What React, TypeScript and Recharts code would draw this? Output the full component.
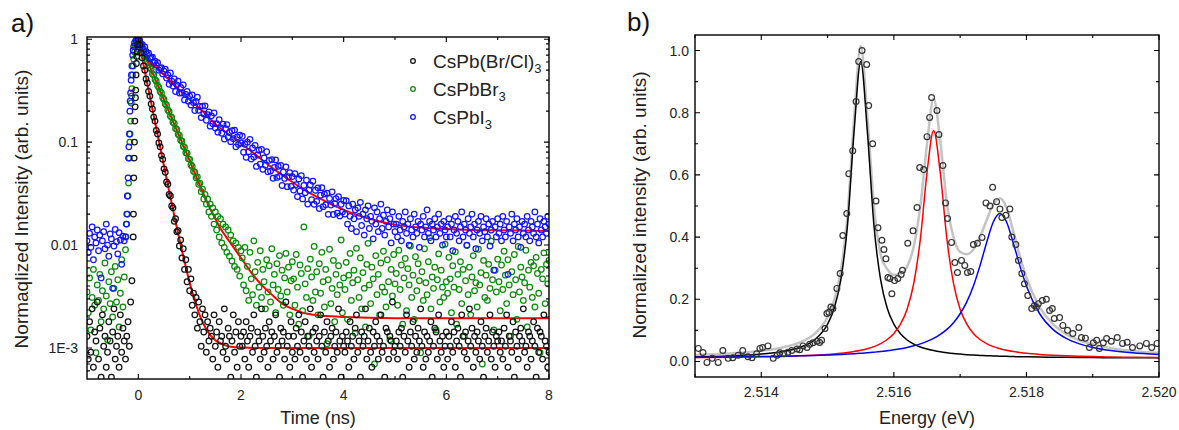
import { ComposedChart, Scatter, Line, XAxis, YAxis } from "recharts";

const FONT = '"Liberation Sans", Arial, Helvetica, sans-serif';

// ---------- panel a: TRPL decays, 25 ps bins from -1 ns to 8 ns ----------
const T0 = -1;
const DT = 0.025;

// CsPb(Br/Cl)3
const bromoChloride = [
  // -1.0 .. -0.125
  0.0013, 0.00078, 0.0018, 0.00091, 0.0024, 0.00065, 0.00143, 0.00117, 0.0028, 0.00078, 0.00156, 0.00052,
  0.0021, 0.00104, 0.0013, 0.00065, 0.00091, 0.0018, 0.00117, 0.00052, 0.00143, 0.0024, 0.00078, 0.00104,
  0.0013, 0.00065, 0.0021, 0.00091, 0.00156, 0.00117, 0.00078, 0.0013, 0.0018, 0.00104, 0.0028, 0.0045,
  // -0.1 .. 0
  0.012, 0.1, 0.32, 0.75, 1.0,
  // 0.025 .. 1.0
  0.88, 0.74, 0.66, 0.55, 0.5, 0.41, 0.375, 0.31, 0.28, 0.235, 0.21, 0.175, 0.16, 0.13, 0.12, 0.098, 0.09, 0.074,
  0.068, 0.055, 0.051, 0.041, 0.039, 0.031, 0.03, 0.024, 0.023, 0.017, 0.018, 0.0135, 0.0138, 0.0098, 0.0112,
  0.0075, 0.0092, 0.0058, 0.0072, 0.0044, 0.0058, 0.0036,
  // 1.025 .. 2.0
  0.0047, 0.0026, 0.0034, 0.0021, 0.0031, 0.00156, 0.0028, 0.0018, 0.00104, 0.0024, 0.00143, 0.0021, 0.00091,
  0.0018, 0.00117, 0.00156, 0.0013, 0.00078, 0.0021, 0.00104, 0.00143, 0.00065, 0.0018, 0.00117, 0.0013, 0.00091,
  0.0024, 0.00104, 0.00078, 0.00156, 0.0013, 0.00052, 0.00117, 0.0021, 0.00091, 0.00143, 0.00065, 0.0018, 0.00104,
  0.0013,
  // 2.025 .. 3.0
  0.00104, 0.00143, 0.00078, 0.0018, 0.00117, 0.00065, 0.0013, 0.00156, 0.00091, 0.0021, 0.00104, 0.00052,
  0.00143, 0.00117, 0.00078, 0.0024, 0.0013, 0.00091, 0.00156, 0.00104, 0.00065, 0.0018, 0.00117, 0.00143,
  0.00078, 0.0013, 0.0021, 0.00091, 0.00104, 0.00052, 0.00156, 0.00117, 0.00143, 0.00078, 0.0028, 0.00104,
  0.0013, 0.00065, 0.0018, 0.00091,
  // 3.025 .. 4.0
  0.0013, 0.00078, 0.00156, 0.00104, 0.0021, 0.00091, 0.00143, 0.00052, 0.00117, 0.0018, 0.00078, 0.0013,
  0.00104, 0.0024, 0.00065, 0.00143, 0.00091, 0.00156, 0.00117, 0.00078, 0.0013, 0.0021, 0.00104, 0.00052,
  0.00143, 0.00091, 0.0018, 0.00117, 0.00065, 0.0013, 0.00156, 0.00078, 0.00104, 0.00143, 0.00091, 0.0024,
  0.00117, 0.00052, 0.0013, 0.00104,
  // 4.025 .. 5.0
  0.00091, 0.00143, 0.00117, 0.00065, 0.0018, 0.00104, 0.0013, 0.00078, 0.00156, 0.0021, 0.00091, 0.00117,
  0.00052, 0.00143, 0.00104, 0.0013, 0.0024, 0.00078, 0.00117, 0.00156, 0.00091, 0.00065, 0.00143, 0.00104,
  0.0018, 0.0013, 0.00078, 0.00117, 0.0021, 0.00091, 0.00104, 0.00052, 0.00156, 0.00143, 0.00078, 0.0013,
  0.00117, 0.0028, 0.00091, 0.00104,
  // 5.025 .. 6.0
  0.00117, 0.00078, 0.00143, 0.00104, 0.00156, 0.00052, 0.0013, 0.00091, 0.0021, 0.00117, 0.00065, 0.00143,
  0.00104, 0.0018, 0.00078, 0.0013, 0.00091, 0.00156, 0.00117, 0.0024, 0.00104, 0.00065, 0.00143, 0.00078,
  0.0013, 0.00091, 0.00117, 0.0018, 0.00052, 0.00104, 0.00156, 0.00143, 0.00078, 0.0021, 0.00117, 0.00091,
  0.0013, 0.00065, 0.00104, 0.00143,
  // 6.025 .. 7.0
  0.00078, 0.0013, 0.00104, 0.0018, 0.00091, 0.00143, 0.00065, 0.00117, 0.00156, 0.00104, 0.00052, 0.0021,
  0.0013, 0.00091, 0.00143, 0.00078, 0.00117, 0.0024, 0.00104, 0.00156, 0.00065, 0.0013, 0.00091, 0.00143,
  0.00117, 0.00078, 0.0018, 0.00104, 0.00052, 0.0013, 0.00156, 0.00091, 0.00117, 0.0021, 0.00078, 0.00143,
  0.00104, 0.00065, 0.0013, 0.00117,
  // 7.025 .. 8.0
  0.00143, 0.00091, 0.00117, 0.00078, 0.00156, 0.00104, 0.0021, 0.00065, 0.0013, 0.00117, 0.00091, 0.0018,
  0.00052, 0.00143, 0.00104, 0.00078, 0.0013, 0.00156, 0.00117, 0.0024, 0.00091, 0.00104, 0.00065, 0.00143,
  0.0013, 0.00078, 0.00117, 0.0018, 0.00104, 0.00052, 0.00156, 0.00091, 0.00143, 0.0013, 0.00078, 0.0021,
  0.00117, 0.00104, 0.00065, 0.00091,
];

// CsPbBr3
const bromide = [
  // -1.0 .. -0.275
  0.0035, 0.0022, 0.0048, 0.0015, 0.0031, 0.0058, 0.0026, 0.0009, 0.0041, 0.0029, 0.0052, 0.0018, 0.0036, 0.0024,
  0.0067, 0.0032, 0.0012, 0.0044, 0.0027, 0.0055, 0.002, 0.0038, 0.0062, 0.0028, 0.0046, 0.0016, 0.0034, 0.0072,
  0.0025, 0.0049,
  // -0.25 .. 0
  0.009, 0.016, 0.03, 0.07, 0.16, 0.33, 0.55, 0.75, 0.9, 0.97, 1.0,
  // 0.025 .. 1.0
  0.93, 0.88, 0.81, 0.77, 0.7, 0.67, 0.61, 0.59, 0.53, 0.51, 0.46, 0.45, 0.405, 0.39, 0.355, 0.34, 0.31, 0.3,
  0.27, 0.26, 0.235, 0.228, 0.205, 0.198, 0.178, 0.174, 0.156, 0.152, 0.136, 0.133, 0.119, 0.116, 0.104, 0.102,
  0.091, 0.089, 0.079, 0.078, 0.069, 0.068,
  // 1.025 .. 2.0
  0.06, 0.058, 0.052, 0.051, 0.045, 0.046, 0.039, 0.04, 0.033, 0.035, 0.028, 0.031, 0.025, 0.028, 0.021, 0.025,
  0.019, 0.023, 0.016, 0.021, 0.014, 0.019, 0.012, 0.018, 0.0105, 0.016, 0.0095, 0.015, 0.0085, 0.014, 0.0078,
  0.0125, 0.007, 0.011, 0.0062, 0.0105, 0.0058, 0.0095, 0.005, 0.0088,
  // 2.025 .. 3.0
  0.0075, 0.0041, 0.0095, 0.0036, 0.0062, 0.0029, 0.0085, 0.0047, 0.0033, 0.011, 0.0055, 0.0026, 0.0068, 0.0039,
  0.0088, 0.0031, 0.0058, 0.0044, 0.0024, 0.0072, 0.0035, 0.0063, 0.0028, 0.0092, 0.0041, 0.0052, 0.0022, 0.0066,
  0.0037, 0.0079, 0.0032, 0.0057, 0.0026, 0.0048, 0.0083, 0.0035, 0.0061, 0.0021, 0.0045, 0.0069,
  // 3.025 .. 4.0
  0.0047, 0.0026, 0.0081, 0.0039, 0.0017, 0.0064, 0.0053, 0.0023, 0.015, 0.0042, 0.0031, 0.0059, 0.0013, 0.0073,
  0.0049, 0.0029, 0.0097, 0.0035, 0.0055, 0.0021, 0.0066, 0.0034, 0.0085, 0.0044, 0.0025, 0.0058, 0.0011, 0.0046,
  0.0091, 0.0027, 0.0038, 0.0071, 0.0018, 0.0052, 0.0033, 0.0063, 0.0041, 0.0112, 0.0022, 0.0048,
  // 4.025 .. 5.0
  0.0037, 0.0068, 0.0019, 0.0051, 0.0083, 0.0029, 0.0043, 0.0057, 0.0014, 0.0093, 0.0046, 0.0031, 0.0075, 0.0024,
  0.0054, 0.0038, 0.0016, 0.0065, 0.0104, 0.0041, 0.0027, 0.0061, 0.0047, 0.0007, 0.0079, 0.0033, 0.0052, 0.0021,
  0.0067, 0.0039, 0.0087, 0.0035, 0.0025, 0.0072, 0.0044, 0.0012, 0.0058, 0.0032, 0.0081, 0.0042,
  // 5.025 .. 6.0
  0.0053, 0.0026, 0.0089, 0.0037, 0.0064, 0.0017, 0.0048, 0.0074, 0.0023, 0.0059, 0.0041, 0.0098, 0.0031, 0.0051,
  0.0019, 0.0077, 0.0036, 0.0066, 0.0045, 0.0009, 0.0055, 0.0029, 0.0092, 0.0043, 0.0033, 0.0069, 0.0118, 0.0024,
  0.0049, 0.0038, 0.0061, 0.0015, 0.0046, 0.0082, 0.0028, 0.0057, 0.0039, 0.0031, 0.0102, 0.0044,
  // 6.025 .. 7.0
  0.0034, 0.0076, 0.0047, 0.0022, 0.0063, 0.0039, 0.0086, 0.0017, 0.0052, 0.0037, 0.0069, 0.0027, 0.0058, 0.0013,
  0.0045, 0.0099, 0.0033, 0.0061, 0.0021, 0.0049, 0.0079, 0.0036, 0.0043, 0.0025, 0.0091, 0.0041, 0.0054, 0.0007,
  0.0071, 0.0031, 0.0051, 0.0029, 0.0065, 0.0038, 0.0109, 0.0046, 0.0015, 0.0057, 0.0035, 0.0073,
  // 7.025 .. 8.0
  0.0044, 0.0023, 0.0064, 0.0037, 0.0087, 0.0051, 0.0027, 0.0072, 0.0041, 0.0013, 0.0055, 0.0033, 0.0081, 0.0046,
  0.0019, 0.0097, 0.0035, 0.0061, 0.0049, 0.0029, 0.0043, 0.0089, 0.0016, 0.0057, 0.0039, 0.0068, 0.0031, 0.0063,
  0.0025, 0.0076, 0.0053, 0.0034, 0.0009, 0.0058, 0.0047, 0.0084, 0.0027, 0.0065, 0.0042, 0.0071,
];

// CsPbI3
const iodide = [
  // -1.0 .. -0.3
  0.011, 0.0085, 0.013, 0.0095, 0.015, 0.0072, 0.012, 0.0105, 0.014, 0.0088, 0.0125, 0.0048, 0.011, 0.0135,
  0.0092, 0.016, 0.01, 0.0078, 0.0128, 0.0115, 0.0038, 0.0098, 0.0142, 0.0108, 0.0082, 0.0132, 0.0112, 0.0065,
  0.0122,
  // -0.275 .. 0
  0.011, 0.012, 0.02, 0.045, 0.12, 0.3, 0.55, 0.78, 0.92, 0.97, 1.0, 0.98,
  // 0.025 .. 1.0
  0.98, 0.89, 0.89, 0.8, 0.84, 0.76, 0.71, 0.73, 0.65, 0.66, 0.67, 0.59, 0.61, 0.56, 0.59, 0.5, 0.52, 0.53, 0.46,
  0.49, 0.51, 0.42, 0.45, 0.365, 0.47, 0.39, 0.35, 0.41, 0.31, 0.36, 0.39, 0.3, 0.34, 0.3, 0.36, 0.257, 0.29,
  0.31, 0.25, 0.28,
  // 1.025 .. 2.0
  0.229, 0.288, 0.242, 0.203, 0.248, 0.273, 0.204, 0.222, 0.173, 0.224, 0.188, 0.225, 0.163, 0.185, 0.197, 0.143,
  0.18, 0.151, 0.192, 0.137, 0.151, 0.125, 0.165, 0.138, 0.122, 0.149, 0.107, 0.135, 0.148, 0.112, 0.124, 0.101,
  0.129, 0.108, 0.131, 0.09, 0.112, 0.095, 0.117, 0.098,
  // 2.025 .. 3.0
  0.114, 0.0798, 0.0953, 0.0711, 0.0999, 0.0808, 0.1065, 0.0684, 0.0877, 0.0718, 0.093, 0.0581, 0.075, 0.0833,
  0.0612, 0.085, 0.0544, 0.0701, 0.0596, 0.0806, 0.0516, 0.0665, 0.0523, 0.0677, 0.0446, 0.0567, 0.0672, 0.0454,
  0.0583, 0.0465, 0.0593, 0.0379, 0.0513, 0.0444, 0.0575, 0.0369, 0.0461, 0.0504, 0.0372, 0.0463,
  // 3.025 .. 4.0
  0.0342, 0.0494, 0.0387, 0.0296, 0.0439, 0.0336, 0.0473, 0.0281, 0.038, 0.0323, 0.0428, 0.025, 0.0343, 0.0383,
  0.0276, 0.0417, 0.0249, 0.0341, 0.0266, 0.036, 0.0226, 0.0305, 0.0361, 0.0236, 0.0313, 0.0247, 0.032, 0.0199,
  0.0284, 0.0245, 0.0329, 0.0198, 0.0253, 0.0283, 0.0204, 0.0295, 0.0192, 0.0249, 0.021, 0.0271,
  // 4.025 .. 5.0
  0.02, 0.027, 0.016, 0.024, 0.019, 0.0145, 0.025, 0.018, 0.022, 0.0135, 0.023, 0.019, 0.026, 0.0155, 0.02, 0.0125,
  0.022, 0.018, 0.024, 0.0145, 0.019, 0.017, 0.0115, 0.023, 0.016, 0.021, 0.0135, 0.018, 0.025, 0.0145, 0.0195,
  0.0125, 0.017, 0.022, 0.015, 0.018, 0.0105, 0.021, 0.016, 0.0135,
  // 5.025 .. 6.0
  0.016, 0.012, 0.019, 0.014, 0.011, 0.017, 0.015, 0.021, 0.013, 0.016, 0.01, 0.018, 0.014, 0.012, 0.02, 0.015,
  0.013, 0.017, 0.0095, 0.016, 0.014, 0.019, 0.012, 0.015, 0.022, 0.013, 0.017, 0.011, 0.016, 0.014, 0.018, 0.012,
  0.015, 0.02, 0.013, 0.016, 0.01, 0.017, 0.014, 0.012,
  // 6.025 .. 7.0
  0.015, 0.018, 0.012, 0.016, 0.0088, 0.014, 0.019, 0.013, 0.017, 0.011, 0.015, 0.021, 0.012, 0.016, 0.014, 0.01,
  0.018, 0.013, 0.015, 0.02, 0.012, 0.016, 0.0092, 0.014, 0.017, 0.013, 0.019, 0.011, 0.015, 0.0135, 0.018, 0.012,
  0.016, 0.0098, 0.014, 0.017, 0.0057, 0.015, 0.012, 0.018,
  // 7.025 .. 8.0
  0.013, 0.016, 0.011, 0.019, 0.014, 0.012, 0.017, 0.0052, 0.015, 0.013, 0.02, 0.011, 0.016, 0.014, 0.018, 0.012,
  0.015, 0.0095, 0.017, 0.013, 0.016, 0.012, 0.019, 0.014, 0.011, 0.017, 0.015, 0.013, 0.021, 0.012, 0.016, 0.0105,
  0.018, 0.014, 0.012, 0.017, 0.015, 0.013, 0.019, 0.016,
];

// extra samples on the steep rising edge (finer timing)
const bcRiseT = [-0.095, -0.088, -0.082, -0.068, -0.062, -0.056, -0.044, -0.037, -0.03, -0.015];
const bcRiseV = [0.02, 0.045, 0.07, 0.16, 0.22, 0.27, 0.45, 0.58, 0.68, 0.88];
const brRiseT = [-0.24, -0.212, -0.19, -0.165, -0.16, -0.138, -0.13, -0.112, -0.09, -0.065];
const brRiseV = [0.012, 0.02, 0.04, 0.1, 0.12, 0.24, 0.28, 0.45, 0.64, 0.85];
const ioRiseT = [-0.235, -0.215, -0.19, -0.185, -0.165, -0.16, -0.14, -0.135, -0.11, -0.09];
const ioRiseV = [0.016, 0.03, 0.07, 0.09, 0.2, 0.25, 0.4, 0.45, 0.7, 0.85];

// fitted decays (red)
const bcFitT = [0, 0.1, 0.2, 0.3, 0.4, 0.5, 0.6, 0.7, 0.8, 0.9, 1.0, 1.1, 1.2, 1.3, 1.4, 1.5, 1.6, 1.8, 2.0, 2.5, 8];
const bcFitV = [1.0, 0.566, 0.32, 0.181, 0.103, 0.0584, 0.0334, 0.0193, 0.0114, 0.0069, 0.0043, 0.0029, 0.00205,
  0.0016, 0.00134, 0.00119, 0.00111, 0.00103, 0.00101, 0.001, 0.001];
const brFitT = [0, 0.1, 0.2, 0.3, 0.4, 0.5, 0.6, 0.7, 0.8, 0.9, 1.0, 1.1, 1.2, 1.3, 1.4, 1.5, 1.6, 1.7, 1.8, 1.9,
  2.0, 2.2, 2.4, 2.6, 2.8, 3.0, 3.4, 4.0, 5.0, 8.0];
const brFitV = [1.0, 0.762, 0.58, 0.442, 0.337, 0.257, 0.196, 0.149, 0.114, 0.087, 0.066, 0.05, 0.038, 0.029,
  0.0225, 0.018, 0.0145, 0.0122, 0.0104, 0.0088, 0.0075, 0.0054, 0.0041, 0.0033, 0.0027, 0.0024, 0.0021, 0.002,
  0.00195, 0.00195];
const ioFitT = [0.15, 0.3, 0.5, 0.75, 1.0, 1.25, 1.5, 1.75, 2.0, 2.25, 2.5, 2.75, 3.0, 3.25, 3.5, 3.75, 4.0, 4.5,
  5.0, 5.5, 6.0, 6.5, 7.0, 8.0];
const ioFitV = [0.65, 0.56, 0.45, 0.34, 0.26, 0.2, 0.15, 0.12, 0.097, 0.078, 0.062, 0.05, 0.041, 0.034, 0.029,
  0.025, 0.022, 0.018, 0.0158, 0.0148, 0.0143, 0.014, 0.0139, 0.0137];

const timeDomain = [-1, 8];
const timeTicks = [0, 1, 2, 3, 4, 5, 6, 7, 8];
const timeMajors = [0, 2, 4, 6, 8];
const timeLabels = ["0", "2", "4", "6", "8"];
const logDomain = [0.0005, 1.05];
const logTicks = [
  0.0006, 0.0007, 0.0008, 0.0009, 0.001, 0.002, 0.003, 0.004, 0.005, 0.006, 0.007, 0.008, 0.009, 0.01, 0.02,
  0.03, 0.04, 0.05, 0.06, 0.07, 0.08, 0.09, 0.1, 0.2, 0.3, 0.4, 0.5, 0.6, 0.7, 0.8, 0.9, 1,
];
const logMajors = [0.001, 0.01, 0.1, 1];
const logLabels = ["1E-3", "0.01", "0.1", "1"];

// ---------- panel b: PL spectrum with three Lorentzian components ----------
const specE = [
  2.51305, 2.51312, 2.51318, 2.51326, 2.51335, 2.51342, 2.5135, 2.51357, 2.51365, 2.51372, 2.5138, 2.51386,
  2.51393, 2.51398, 2.51402, 2.5141, 2.51418, 2.51424, 2.51428, 2.51434, 2.5144, 2.51446, 2.51454, 2.51458,
  2.51463, 2.51469, 2.51473, 2.51478, 2.51484, 2.51488, 2.51491, 2.51496, 2.51499, 2.51502, 2.51505, 2.51508,
  2.51514, 2.51519, 2.51523, 2.51529, 2.51532, 2.51538, 2.51543, 2.51547, 2.51552, 2.51559, 2.51562, 2.51568,
  2.51573, 2.51576, 2.51582, 2.51585, 2.51588, 2.51591, 2.51594, 2.51597, 2.51601, 2.51606, 2.51611, 2.51613,
  2.51621, 2.51629, 2.51635, 2.51639, 2.51645, 2.5165, 2.51654, 2.51657, 2.51665, 2.51668, 2.51674, 2.51678,
  2.51681, 2.51687, 2.51692, 2.51696, 2.51702, 2.51707, 2.51711, 2.51716, 2.5172, 2.51726, 2.51733, 2.51739,
  2.51745, 2.51749, 2.51755, 2.5176, 2.51763, 2.51769, 2.51775, 2.51778, 2.51784, 2.51788, 2.51793, 2.51797,
  2.51802, 2.51808, 2.51812, 2.51815, 2.51818, 2.51824, 2.5183, 2.51835, 2.51839, 2.51842, 2.5185, 2.51855,
  2.51862, 2.5187, 2.51879, 2.51883, 2.51889, 2.51895, 2.51901, 2.51906, 2.5191, 2.51916, 2.51921, 2.51928,
  2.51937, 2.51945, 2.51952, 2.5196, 2.51971, 2.51981, 2.51989, 2.51997,
];
const specI = [
  0.042, 0.029, -0.003, 0.01, -0.003, 0.035, 0.01, 0.012, 0.02, 0.035, 0.015, 0.012,
  0.025, 0.042, 0.045, 0.05, 0.01, 0.02, 0.028, 0.025, 0.03, 0.035, 0.04, 0.038,
  0.05, 0.045, 0.055, 0.06, 0.065, 0.061, 0.068, 0.106, 0.154, 0.158, 0.175, 0.17,
  0.235, 0.283, 0.405, 0.476, 0.604, 0.678, 0.836, 0.965, 1.0, 0.955, 0.823, 0.7,
  0.516, 0.43, 0.39, 0.36, 0.33, 0.27, 0.267, 0.218, 0.26, 0.267, 0.28, 0.293,
  0.38, 0.42, 0.495, 0.624, 0.617, 0.723, 0.785, 0.849, 0.807, 0.73, 0.63, 0.51,
  0.46, 0.383, 0.318, 0.286, 0.325, 0.309, 0.286, 0.289, 0.376, 0.38, 0.399, 0.51,
  0.5, 0.56, 0.514, 0.49, 0.463, 0.47, 0.49, 0.4, 0.376, 0.325, 0.283, 0.25,
  0.212, 0.17, 0.18, 0.174, 0.186, 0.196, 0.2, 0.164, 0.17, 0.138, 0.141, 0.116,
  0.1, 0.09, 0.109, 0.077, 0.075, 0.045, 0.06, 0.068, 0.042, 0.06, 0.074, 0.065,
  0.077, 0.058, 0.062, 0.045, 0.05, 0.058, 0.045, 0.058,
];

const curveE = [
  2.513, 2.5135, 2.514, 2.5143, 2.5146, 2.5148, 2.515, 2.5151, 2.5152, 2.5153, 2.5154, 2.5155, 2.5156, 2.5157,
  2.5158, 2.5159, 2.516, 2.5161, 2.5162, 2.5163, 2.5164, 2.5165, 2.5166, 2.5167, 2.5168, 2.5169, 2.517, 2.5171,
  2.5172, 2.5173, 2.5174, 2.5175, 2.5176, 2.5177, 2.5178, 2.5179, 2.518, 2.5182, 2.5184, 2.5186, 2.5188, 2.519,
  2.5193, 2.5196, 2.52,
];
const envelope = [
  0.021, 0.0255, 0.034, 0.044, 0.063, 0.088, 0.143, 0.197, 0.292, 0.47, 0.78, 1.015, 0.79, 0.5,
  0.345, 0.297, 0.279, 0.282, 0.305, 0.37, 0.5, 0.7, 0.845, 0.71, 0.51, 0.4, 0.352, 0.345,
  0.36, 0.4, 0.455, 0.505, 0.525, 0.495, 0.42, 0.34, 0.27, 0.175, 0.12, 0.088, 0.068, 0.055,
  0.042, 0.034, 0.028,
];
const peak1 = [
  0.0149, 0.0177, 0.0236, 0.031, 0.0467, 0.069, 0.12, 0.171, 0.263, 0.437, 0.74, 0.965, 0.74, 0.437,
  0.263, 0.171, 0.12, 0.089, 0.069, 0.056, 0.0467, 0.04, 0.035, 0.031, 0.028, 0.0255, 0.0236, 0.0219,
  0.0206, 0.0195, 0.0185, 0.0177, 0.017, 0.0164, 0.0158, 0.0153, 0.0149, 0.0142, 0.0137, 0.0132, 0.0128, 0.0125,
  0.0121, 0.0118, 0.0115,
];
const peak2 = [
  0.0125, 0.0134, 0.0148, 0.0161, 0.018, 0.0198, 0.0224, 0.0241, 0.0261, 0.0287, 0.0318, 0.0358, 0.0409, 0.0478,
  0.0573, 0.0706, 0.09, 0.12, 0.168, 0.251, 0.394, 0.607, 0.743, 0.607, 0.394, 0.251, 0.168, 0.12,
  0.09, 0.0706, 0.0573, 0.0478, 0.0409, 0.0358, 0.0318, 0.0287, 0.0261, 0.0224, 0.0198, 0.018, 0.0166, 0.0156,
  0.0144, 0.0136, 0.0128,
];
const peak3 = [
  0.0135, 0.0144, 0.0157, 0.0168, 0.0181, 0.0193, 0.0208, 0.0216, 0.0226, 0.0237, 0.0249, 0.0263, 0.0279, 0.0298,
  0.0319, 0.0345, 0.0374, 0.0409, 0.0452, 0.0503, 0.0566, 0.0644, 0.0743, 0.0869, 0.1032, 0.1248, 0.1534, 0.1918,
  0.243, 0.3082, 0.3828, 0.4486, 0.476, 0.4486, 0.3828, 0.3082, 0.243, 0.1534, 0.1032, 0.0743, 0.0566, 0.0452,
  0.0345, 0.0279, 0.0226,
];

const energyDomain = [2.513, 2.52];
const energyTicks = [2.513, 2.514, 2.515, 2.516, 2.517, 2.518, 2.519, 2.52];
const energyMajors = [2.514, 2.516, 2.518, 2.52];
const energyLabels = ["2.514", "2.516", "2.518", "2.520"];
const intDomain = [-0.05, 1.05];
const intTicks = [0, 0.1, 0.2, 0.3, 0.4, 0.5, 0.6, 0.7, 0.8, 0.9, 1.0];
const intMajors = [0, 0.2, 0.4, 0.6, 0.8, 1.0];
const intLabels = ["0.0", "0.2", "0.4", "0.6", "0.8", "1.0"];

// plot boxes follow from the chart margins below
const boxA = { left: 87, top: 37, width: 462, height: 342 };
const boxB = { left: 695, top: 35, width: 464, height: 342 };

// ---------- helpers ----------
const decay = (vals: number[], riseT: number[], riseV: number[]) => [
  ...vals.map((v, i) => ({ t: T0 + i * DT, v })),
  ...riseT.map((t, i) => ({ t, v: riseV[i] })),
];
const zip = (xs: number[], ys: number[], key: string) => xs.map((x, i) => ({ [key]: x, v: ys[i] }));
const isMajor = (majors: number[], v: number) => majors.some((m) => Math.abs(m - v) < 1e-9);

const ring = (color: string, r: number, w: number) => (p: any) =>
  p.cx == null ? <g /> : <circle cx={p.cx} cy={p.cy} r={r} fill="none" stroke={color} strokeWidth={w} />;

const labelTick = (side: "bottom" | "left", majors: number[], labels: string[], gap: number) => (p: any) => {
  const x = Number(p.x);
  const y = Number(p.y);
  const k = majors.findIndex((m) => Math.abs(m - Number(p.payload?.value)) < 1e-9);
  if (k < 0) return <g />;
  const common = { fontFamily: FONT, fontSize: 14, fill: "#222" };
  return side === "bottom" ? (
    <text x={x} y={y + gap} textAnchor="middle" {...common}>{labels[k]}</text>
  ) : (
    <text x={x - gap} y={y + 5} textAnchor="end" {...common}>{labels[k]}</text>
  );
};

// inward tick marks on all four sides of a plot box
const tickPath = (
  box: { left: number; top: number; width: number; height: number },
  xs: number[], xMajors: number[], xPos: (v: number) => number,
  ys: number[], yMajors: number[], yPos: (v: number) => number,
) => {
  const r = box.left + box.width;
  const b = box.top + box.height;
  let d = "";
  xs.forEach((v) => {
    const x = box.left + xPos(v) * box.width;
    const l = isMajor(xMajors, v) ? 5 : 3;
    d += `M${x},${b}v${-l}M${x},${box.top}v${l}`;
  });
  ys.forEach((v) => {
    const y = b - yPos(v) * box.height;
    const l = isMajor(yMajors, v) ? 5 : 3;
    d += `M${box.left},${y}h${l}M${r},${y}h${-l}`;
  });
  return d;
};
const fracLin = (dom: number[]) => (v: number) => (v - dom[0]) / (dom[1] - dom[0]);
const fracLog = (dom: number[]) => (v: number) =>
  (Math.log10(v) - Math.log10(dom[0])) / (Math.log10(dom[1]) - Math.log10(dom[0]));

export default function App() {
  const bc = decay(bromoChloride, bcRiseT, bcRiseV);
  const br = decay(bromide, brRiseT, brRiseV);
  const io = decay(iodide, ioRiseT, ioRiseV);
  const spectrum = zip(specE, specI, "e");
  const ticksA = tickPath(boxA, timeTicks, timeMajors, fracLin(timeDomain), logTicks, logMajors, fracLog(logDomain));
  const ticksB = tickPath(boxB, energyTicks, energyMajors, fracLin(energyDomain), intTicks, intMajors,
    fracLin(intDomain));

  return (
    <div style={{ position: "absolute", left: 0, top: 0, width: 1179, height: 430, background: "#fff" }}>
      <div style={{ position: "absolute", left: 0, top: 0 }}>
        <ComposedChart width={560} height={430} margin={{ top: 37, right: 11, bottom: 21, left: 47 }}>
          <XAxis dataKey="t" type="number" domain={timeDomain} allowDataOverflow ticks={timeTicks} interval={0}
            height={30} tickSize={0} tickMargin={0} tickLine={false} axisLine={false}
            tick={labelTick("bottom", timeMajors, timeLabels, 21)} />
          <YAxis dataKey="v" type="number" scale="log" domain={logDomain} allowDataOverflow ticks={logTicks}
            interval={0} width={40} tickSize={0} tickMargin={0} tickLine={false} axisLine={false}
            tick={labelTick("left", logMajors, logLabels, 9)} />
          <Scatter data={br} dataKey="v" shape={ring("#0a8a0a", 2.8, 1.25)} isAnimationActive={false} />
          <Scatter data={io} dataKey="v" shape={ring("#1414ff", 2.8, 1.25)} isAnimationActive={false} />
          <Scatter data={bc} dataKey="v" shape={ring("#111", 2.8, 1.25)} isAnimationActive={false} />
          <Line data={zip(bcFitT, bcFitV, "t")} dataKey="v" type="monotone" stroke="#ff0000" strokeWidth={2}
            dot={false} isAnimationActive={false} />
          <Line data={zip(brFitT, brFitV, "t")} dataKey="v" type="monotone" stroke="#ff0000" strokeWidth={2}
            dot={false} isAnimationActive={false} />
          <Line data={zip(ioFitT, ioFitV, "t")} dataKey="v" type="monotone" stroke="#ff0000" strokeWidth={2}
            dot={false} isAnimationActive={false} />
        </ComposedChart>
      </div>

      <div style={{ position: "absolute", left: 580, top: 0 }}>
        <ComposedChart width={599} height={430} margin={{ top: 35, right: 20, bottom: 23, left: 70 }}>
          <XAxis dataKey="e" type="number" domain={energyDomain} allowDataOverflow ticks={energyTicks} interval={0}
            height={30} tickSize={0} tickMargin={0} tickLine={false} axisLine={false}
            tick={labelTick("bottom", energyMajors, energyLabels, 20)} />
          <YAxis dataKey="v" type="number" domain={intDomain} allowDataOverflow ticks={intTicks} interval={0}
            width={45} tickSize={0} tickMargin={0} tickLine={false} axisLine={false}
            tick={labelTick("left", intMajors, intLabels, 6)} />
          <Line data={zip(curveE, envelope, "e")} dataKey="v" type="monotone" stroke="#c4c4c4" strokeWidth={2.5}
            dot={false} isAnimationActive={false} />
          <Line data={zip(curveE, peak1, "e")} dataKey="v" type="monotone" stroke="#000" strokeWidth={1.5}
            dot={false} isAnimationActive={false} />
          <Line data={zip(curveE, peak2, "e")} dataKey="v" type="monotone" stroke="#ff0000" strokeWidth={1.5}
            dot={false} isAnimationActive={false} />
          <Line data={zip(curveE, peak3, "e")} dataKey="v" type="monotone" stroke="#0000ff" strokeWidth={1.5}
            dot={false} isAnimationActive={false} />
          <Scatter data={spectrum} dataKey="v" shape={ring("#333", 2.9, 1.2)} isAnimationActive={false} />
        </ComposedChart>
      </div>

      <svg width={1179} height={430} style={{ position: "absolute", left: 0, top: 0, pointerEvents: "none" }}
        fontFamily={FONT}>
        <rect x={boxA.left} y={boxA.top} width={boxA.width} height={boxA.height} fill="none" stroke="#000"
          strokeWidth={1.4} />
        <rect x={boxB.left} y={boxB.top} width={boxB.width} height={boxB.height} fill="none" stroke="#000"
          strokeWidth={1.4} />
        <path d={ticksA} fill="none" stroke="#000" strokeWidth={1.1} />
        <path d={ticksB} fill="none" stroke="#000" strokeWidth={1.1} />
        <text x={11} y={32} fontSize={26} fill="#111">a)</text>
        <text x={627} y={31} fontSize={26} fill="#111">b)</text>
        <text x={318} y={424} fontSize={18} fill="#222" textAnchor="middle">Time (ns)</text>
        <text x={927} y={424} fontSize={18} fill="#222" textAnchor="middle">Energy (eV)</text>
        <text transform="translate(28, 209) rotate(-90)" fontSize={19} fill="#222" textAnchor="middle">
          Normaqlized Intensity (arb. units)
        </text>
        <text transform="translate(646, 205) rotate(-90)" fontSize={19} fill="#222" textAnchor="middle">
          Normalized intensity (arb. units)
        </text>
        <circle cx={413} cy={61} r={2.3} fill="none" stroke="#111" strokeWidth={1.3} />
        <circle cx={413} cy={89} r={2.3} fill="none" stroke="#0a8a0a" strokeWidth={1.3} />
        <circle cx={413} cy={117} r={2.3} fill="none" stroke="#1414ff" strokeWidth={1.3} />
        <text x={433} y={68} fontSize={19} fill="#222">
          CsPb(Br/Cl)<tspan dy={5} fontSize={13}>3</tspan>
        </text>
        <text x={433} y={96} fontSize={19} fill="#222">
          CsPbBr<tspan dy={5} fontSize={13}>3</tspan>
        </text>
        <text x={433} y={124} fontSize={19} fill="#222">
          CsPbI<tspan dy={5} fontSize={13}>3</tspan>
        </text>
      </svg>
    </div>
  );
}
